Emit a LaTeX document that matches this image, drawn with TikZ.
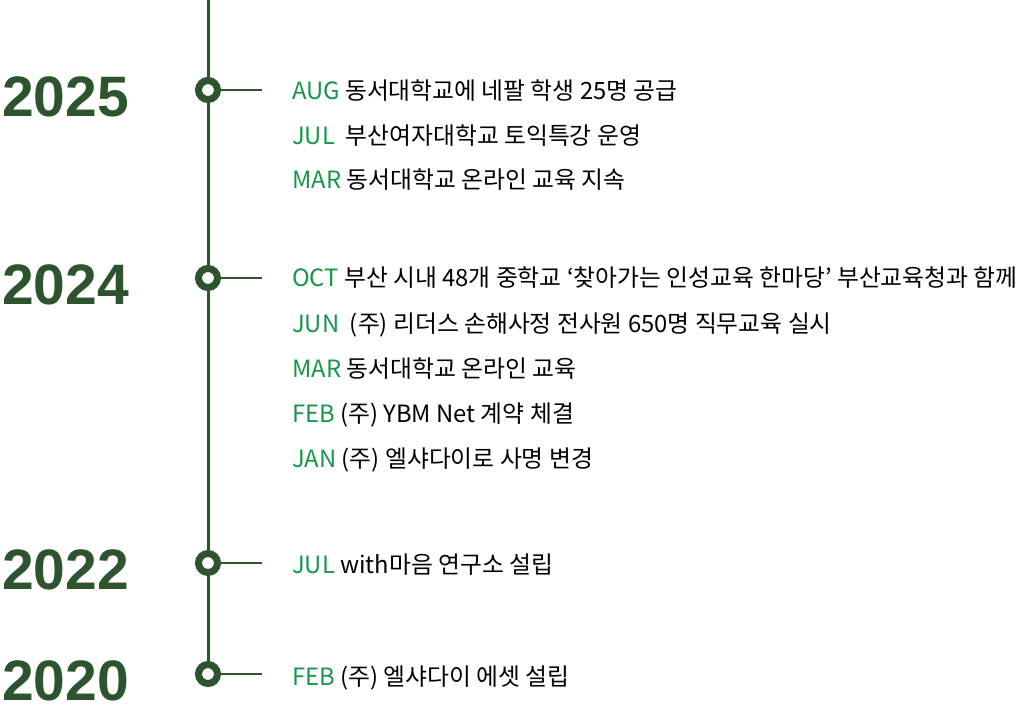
\documentclass[tikz,border=0pt]{standalone}
\usepackage{fontspec}
\setmainfont{Noto Sans CJK KR}
\newfontfamily\yearfont{Liberation Sans}
\usetikzlibrary{positioning}
\definecolor{lineGreen}{RGB}{46,83,47}
\definecolor{monthGreen}{RGB}{22,150,72}
\tikzset{
    yearLabel/.style={
    ,   anchor=base west
    ,   inner sep=0pt
    ,   text=lineGreen
    ,   font={\yearfont\fontsize{57}{57}\selectfont\bfseries}
    },
    dotNode/.style={
    ,   circle
    ,   minimum size=19pt
    ,   inner sep=0pt
    ,   draw=lineGreen
    ,   line width=7pt
    ,   fill=white
    },
    tickLine/.style={
    ,   draw=lineGreen
    ,   line width=2pt
    },
    mainLine/.style={
    ,   draw=lineGreen
    ,   line width=3pt
    },
    evtText/.style={
    ,   anchor=base west
    ,   inner sep=0pt
    ,   font={\fontsize{23.8}{24}\selectfont}
    },
}
\newcommand{\mon}[1]{\textcolor{monthGreen}{#1}}

\begin{document}
\begin{tikzpicture}[x=1pt,y=-1pt]
	\useasboundingbox (0,0) rectangle (1024,715);
	\coordinate (top) at (208,0);
	\foreach \yr/\y in {2025/90,2024/278,2022/563,2020/674}{
	\node[dotNode] (d\yr) at (208,\y) {};
	\coordinate (t\yr) at (262,\y);
	\draw[tickLine] (d\yr) -- (t\yr);
	\node[yearLabel] (y\yr) at (2,\y+26) {\yr};
	}
	% spine between the dots
	\draw[mainLine] (top) -- (d2025.north);
	\draw[mainLine] (d2025.south) -- (d2024.north);
	\draw[mainLine] (d2024.south) -- (d2022.north);
	\draw[mainLine] (d2022.south) -- (d2020.north);

	% 2025
	\node[evtText] (e25a) at (292,99) {\mon{AUG} 동서대학교에 네팔 학생 25명 공급};
	\node[evtText] (e25b) at (292,144) {\mon{JUL}\ \ 부산여자대학교 토익특강 운영};
	\node[evtText] (e25c) at (292,188) {\mon{MAR} 동서대학교 온라인 교육 지속};

	% 2024
	\node[evtText] (e24a) at (292,286) {\mon{OCT} 부산 시내 48개 중학교 ‘찾아가는 인성교육 한마당’ 부산교육청과 함께};
	\node[evtText] (e24b) at (292,332) {\mon{JUN}\ \ (주) 리더스 손해사정 전사원 650명 직무교육 실시};
	\node[evtText] (e24c) at (292,377) {\mon{MAR} 동서대학교 온라인 교육};
	\node[evtText] (e24d) at (292,422) {\mon{FEB} (주) YBM Net 계약 체결};
	\node[evtText] (e24e) at (292,467) {\mon{JAN} (주) 엘샤다이로 사명 변경};

	% 2022, 2020
	\node[evtText] (e22a) at (292,573) {\mon{JUL} with마음 연구소 설립};
	\node[evtText] (e20a) at (292,685) {\mon{FEB} (주) 엘샤다이 에셋 설립};
\end{tikzpicture}
\end{document}
